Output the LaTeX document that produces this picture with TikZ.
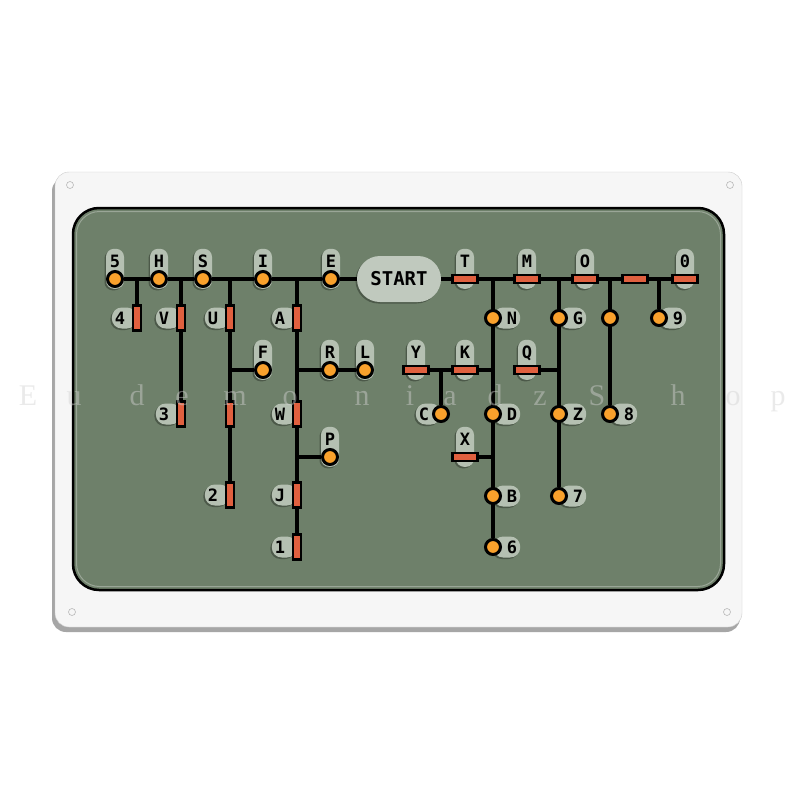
\documentclass[tikz,border=0pt]{standalone}
\usepackage{fontspec}
\setmainfont{DejaVu Sans Mono}
\newfontfamily\wmfont{Liberation Serif}
\usetikzlibrary{shadows}
\pgfdeclarelayer{plate}
\pgfdeclarelayer{tabs}
\pgfdeclarelayer{wires}
\pgfsetlayers{plate,tabs,wires,main}
\definecolor{panelgreen}{HTML}{6E806A}
\definecolor{tabgray}{HTML}{B5C0B2}
\definecolor{dotorange}{HTML}{F9A12C}
\definecolor{dashred}{HTML}{E0603F}
\definecolor{platewhite}{HTML}{F6F6F6}

\begin{document}
\begin{tikzpicture}[x=1pt,y=-1pt,
  dot/.style={circle,draw,line width=3,fill=dotorange,minimum size=15,inner sep=0},
  hd/.style={draw,line width=2.5,fill=dashred,minimum width=25,minimum height=8,inner sep=0},
  vd/.style={hd,minimum width=8,minimum height=25},
  wire/.style={line width=3.5},
  tab/.style={fill=tabgray,inner sep=0,font=\bfseries\fontsize{17}{17}\selectfont,
    drop shadow={shadow xshift=-1.5pt,shadow yshift=-1.5pt,opacity=.3,fill=black}},
  up/.style={tab,rounded corners=8,minimum width=18,inner ysep=2,text height=17,text depth=19,anchor=south,yshift=-10},
  lt/.style={tab,rounded corners=10,inner xsep=3,text width=19,align=left,text height=12.5,text depth=0,minimum height=21,anchor=east},
  rt/.style={tab,rounded corners=10,inner xsep=3,text width=21,align=right,text height=12.5,text depth=0,minimum height=21,anchor=west}]
\useasboundingbox (0,0) rectangle (800,800);

\begin{pgfonlayer}{plate}
\fill[white] (0,0) rectangle (800,800);
\fill[black!35,rounded corners=14] (52,177) rectangle (740,632);
\filldraw[fill=platewhite,draw=gray!40,rounded corners=14] (55,172) rectangle (742,627);
\foreach \p in {(70,185),(730,185),(72,612),(727,612)}
  \draw[gray!55,line width=.6] \p circle (3.5);
\filldraw[fill=panelgreen,draw=black,line width=2.5,rounded corners=26] (73,208) rectangle (724,590);
\draw[panelgreen!70!white,line width=1,rounded corners=23] (76.5,211.5) rectangle (720.5,586.5);
\end{pgfonlayer}

% top row
\node[dot] (d5) at (115,279) {};
\node[dot] (dH) at (159,279) {};
\node[dot] (dS) at (203,279) {};
\node[dot] (dI) at (263,279) {};
\node[dot] (dE) at (331,279) {};
\node[tab,rounded corners=23,minimum width=84,minimum height=46,fill=tabgray!85!white,
  font=\bfseries\fontsize{19}{19}\selectfont] (st) at (399,279) {START};
\node[hd] (hT) at (465,279) {};
\node[hd] (hM) at (527,279) {};
\node[hd] (hO) at (585,279) {};
\node[hd] (hCH) at (635,279) {};
\node[hd] (h0) at (685,279) {};
% E side
\node[vd] (v4) at (137,318) {};
\node[vd] (vV) at (181,318) {};
\node[vd] (vU) at (230,318) {};
\node[vd] (vA) at (297,318) {};
\node[vd] (v3) at (181,414) {};
\node[vd] (vUU) at (230,414) {};
\node[vd] (v2) at (230,495) {};
\node[vd] (vW) at (297,414) {};
\node[vd] (vJ) at (297,495) {};
\node[vd] (v1) at (297,547) {};
\node[dot] (dF) at (263,370) {};
\node[dot] (dR) at (330,370) {};
\node[dot] (dL) at (365,370) {};
\node[dot] (dP) at (330,457) {};
% T side
\node[dot] (dN) at (493,318) {};
\node[dot] (dG) at (559,318) {};
\node[dot] (dOE) at (610,318) {};
\node[dot] (d9) at (659,318) {};
\node[hd] (hY) at (416,370) {};
\node[hd] (hK) at (465,370) {};
\node[hd] (hQ) at (527,370) {};
\node[hd] (hX) at (465,457) {};
\node[dot] (dC) at (441,414) {};
\node[dot] (dD) at (493,414) {};
\node[dot] (dZ) at (559,414) {};
\node[dot] (d8) at (610,414) {};
\node[dot] (dB) at (493,496) {};
\node[dot] (d7) at (559,496) {};
\node[dot] (d6) at (493,547) {};

\begin{pgfonlayer}{tabs}
\foreach \n/\t in {d5/5,dH/H,dS/S,dI/I,dE/E,hT/T,hM/M,hO/O,h0/0,dF/F,dR/R,dL/L,dP/P,hY/Y,hK/K,hQ/Q,hX/X}
  \node[up] (l\n) at (\n.center) {\t};
\foreach \n/\t in {v4/4,vV/V,vU/U,vA/A,v3/3,v2/2,vW/W,vJ/J,v1/1,dC/C}
  \node[lt] (l\n) at (\n.center) {\t};
\foreach \n/\t in {dN/N,dG/G,d9/9,dD/D,dZ/Z,d8/8,dB/B,d7/7,d6/6}
  \node[rt] (l\n) at (\n.center) {\t};
\end{pgfonlayer}

\begin{pgfonlayer}{wires}
\draw[wire] (d5)--(dH)--(dS)--(dI)--(dE)--(st)--(hT)--(hM)--(hO)--(hCH)--(h0);
\draw[wire] (v4)--(v4 |- dH);
\draw[wire] (v3)--(v3 |- dH);
\draw[wire] (v2)--(v2 |- dS);
\draw[wire] (dF)--(dF -| vU);
\draw[wire] (v1)--(v1 |- dE);
\draw[wire] (dL)--(dL -| vA);
\draw[wire] (dP)--(dP -| vA);
\draw[wire] (d6)--(d6 |- hT);
\draw[wire] (hY)--(hY -| dN);
\draw[wire] (dC)--(dC |- hY);
\draw[wire] (hX)--(hX -| dN);
\draw[wire] (d7)--(d7 |- hM);
\draw[wire] (hQ)--(hQ -| dG);
\draw[wire] (d8)--(d8 |- hO);
\draw[wire] (d9)--(d9 |- hCH);
\end{pgfonlayer}

% watermark
\foreach \c/\x in {E/28,u/74,d/137,e/182,m/235,o/290,n/362,i/410,a/450,d/495,z/540,S/597,h/678,o/733,p/778}
  \node[text=gray!35,opacity=.45,font=\wmfont\fontsize{30}{30}\selectfont,anchor=base] at (\x,405) {\c};
\end{tikzpicture}
\end{document}
